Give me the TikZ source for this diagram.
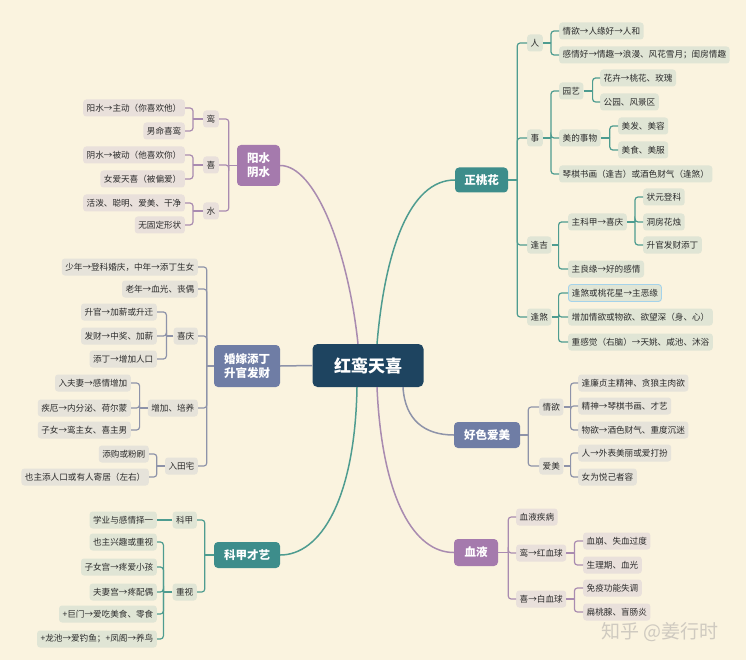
\documentclass[tikz,border=0pt]{standalone}
\usepackage{fontspec}
\setmainfont{Noto Sans CJK SC}
\usetikzlibrary{calc}
\definecolor{bgc}{HTML}{FAF3DF}
\definecolor{navy}{HTML}{1E4460}
\definecolor{tcol}{HTML}{3D8D8B}
\definecolor{pcol}{HTML}{A57AAD}
\definecolor{scol}{HTML}{6F7DA5}
\definecolor{tlc}{HTML}{4E9C90}
\definecolor{plc}{HTML}{A98BB0}
\definecolor{slc}{HTML}{8E93A9}
\definecolor{tlf}{HTML}{E0E5D5}
\definecolor{plf}{HTML}{E9E0DB}
\definecolor{slf}{HTML}{E6E3DA}
\definecolor{txt}{HTML}{2B2B2B}
\definecolor{hl}{HTML}{A5D3EA}
\definecolor{wmc}{HTML}{CFCAC0}
\newcommand{\brL}[4]{%
  \draw[#4] (#1.west) -- ++(-#2,0) coordinate (#1j);
  \foreach \cc in {#3} {\draw[#4,rounded corners=3pt] (#1j) |- (\cc.east);}
}
\newcommand{\brR}[4]{%
  \draw[#4] (#1.east) -- ++(#2,0) coordinate (#1j);
  \foreach \cc in {#3} {\draw[#4,rounded corners=3pt] (#1j) |- (\cc.west);}
}
\tikzset{
  leafbox/.style={rounded corners=3pt, inner xsep=3.5pt, inner ysep=0pt, minimum height=17pt, font=\fontsize{8.6}{10}\selectfont, text=txt},
  tleaf/.style={leafbox, fill=tlf},
  pleaf/.style={leafbox, fill=plf},
  sleaf/.style={leafbox, fill=slf},
  mainbox/.style={rounded corners=4pt, text=white, font=\fontsize{11.5}{14}\selectfont\bfseries, align=center, inner sep=0pt},
  tline/.style={draw=tlc, line width=1.2pt},
  pline/.style={draw=plc, line width=1.2pt},
  sline/.style={draw=slc, line width=1.2pt},
  mline/.style={line width=1.5pt},
}
\begin{document}
\begin{tikzpicture}[x=1pt,y=-1pt]
\fill[bgc] (0,0) rectangle (746,660);
\useasboundingbox (0,0) rectangle (746,660);

% centre
\node[fill=navy, rounded corners=5pt, minimum width=111pt, minimum height=43pt, text=white, font=\fontsize{17}{20}\selectfont\bfseries, inner sep=0pt] (c) at (368,365.5) {红鸾天喜};

% main nodes
\node[mainbox, fill=pcol, minimum width=43pt, minimum height=41pt] (yy) at (258.5,165.5) {阳水\\阴水};
\node[mainbox, fill=scol, minimum width=66pt, minimum height=42pt] (hj) at (247,366) {婚嫁添丁\\升官发财};
\node[mainbox, fill=tcol, minimum width=66pt, minimum height=26pt] (kj) at (247,555) {科甲才艺};
\node[mainbox, fill=tcol, minimum width=53pt, minimum height=25pt] (zt) at (481.5,180) {正桃花};
\node[mainbox, fill=scol, minimum width=66pt, minimum height=26pt] (hs) at (487,435) {好色爱美};
\node[mainbox, fill=pcol, minimum width=44pt, minimum height=27pt] (xy) at (476,552.5) {血液};

% main connectors
\draw[pline, mline] ($(c.north)+(-10,0)$) .. controls +(-10,-94) and +(35,0) .. (yy.east);
\draw[tline, mline] ($(c.north)+(9,0)$) .. controls +(8,-94) and +(-45,0) .. (zt.west);
\draw[tline, mline] ($(c.south)+(-11,0)$) .. controls +(-2,113) and +(40,0) .. (kj.east);
\draw[pline, mline] ($(c.south)+(9,0)$) .. controls +(5,113) and +(-39,0) .. (xy.west);
\draw[sline, mline] ($(c.south)+(35,0)$) .. controls +(2,33) and +(-29,0) .. (hs.west);
\draw[sline, mline] (c.west) -- (hj.east);

% ---- 阳水阴水
\node[pleaf, anchor=east] (yy1) at (219,119) {鸾};
\node[pleaf, anchor=east] (yy2) at (219,165) {喜};
\node[pleaf, anchor=east] (yy3) at (219,211) {水};
\node[pleaf, anchor=east] (yy11) at (185,108) {阳水→主动（你喜欢他）};
\node[pleaf, anchor=east] (yy12) at (185,131) {男命喜鸾};
\node[pleaf, anchor=east] (yy21) at (185,155) {阴水→被动（他喜欢你）};
\node[pleaf, anchor=east] (yy22) at (185,179) {女爱天喜（被偏爱）};
\node[pleaf, anchor=east] (yy31) at (185,203) {活泼、聪明、爱美、干净};
\node[pleaf, anchor=east] (yy32) at (185,225) {无固定形状};
\brL{yy}{8}{yy1,yy2,yy3}{pline}
\brL{yy1}{10}{yy11,yy12}{pline}
\brL{yy2}{10}{yy21,yy22}{pline}
\brL{yy3}{10}{yy31,yy32}{pline}

% ---- 婚嫁添丁
\node[sleaf, anchor=east] (hj1) at (198,267) {少年→登科婚庆，中年→添丁生女};
\node[sleaf, anchor=east] (hj2) at (198,289) {老年→血光、丧偶};
\node[sleaf, anchor=east] (hj3) at (198,336) {喜庆};
\node[sleaf, anchor=east] (hj4) at (198,408) {增加、培养};
\node[sleaf, anchor=east] (hj5) at (198,466) {入田宅};
\node[sleaf, anchor=east] (hj31) at (157,312) {升官→加薪或升迁};
\node[sleaf, anchor=east] (hj32) at (157,336) {发财→中奖、加薪};
\node[sleaf, anchor=east] (hj33) at (157,359) {添丁→增加人口};
\node[sleaf, anchor=east] (hj41) at (131,383) {入夫妻→感情增加};
\node[sleaf, anchor=east] (hj42) at (131,408) {疾厄→内分泌、荷尔蒙};
\node[sleaf, anchor=east] (hj43) at (131,430) {子女→鸾主女、喜主男};
\node[sleaf, anchor=east] (hj51) at (149,454) {添购或粉刷};
\node[sleaf, anchor=east] (hj52) at (149,477) {也主添人口或有人寄居（左右）};
\brL{hj}{7}{hj1,hj2,hj3,hj4,hj5}{sline}
\brL{hj3}{7}{hj31,hj32,hj33}{sline}
\brL{hj4}{8}{hj41,hj42,hj43}{sline}
\brL{hj5}{8}{hj51,hj52}{sline}

% ---- 科甲才艺
\node[tleaf, anchor=east] (kj1) at (197,520) {科甲};
\node[tleaf, anchor=east] (kj2) at (197,592) {重视};
\node[tleaf, anchor=east] (kj11) at (157,520) {学业与感情择一};
\node[tleaf, anchor=east] (kj21) at (157,542) {也主兴趣或重视};
\node[tleaf, anchor=east] (kj22) at (157,567) {子女宫→疼爱小孩};
\node[tleaf, anchor=east] (kj23) at (157,592) {夫妻宫→疼配偶};
\node[tleaf, anchor=east] (kj24) at (157,614) {+巨门→爱吃美食、零食};
\node[tleaf, anchor=east] (kj25) at (157,639) {+龙池→爱钓鱼；+凤阁→养鸟};
\brL{kj}{9}{kj1,kj2}{tline}
\draw[tline] (kj1.west) -- (kj11.east);
\brL{kj2}{9}{kj21,kj22,kj23,kj24,kj25}{tline}

% ---- 正桃花
\node[tleaf, anchor=west] (zt1) at (527,43) {人};
\node[tleaf, anchor=west] (zt2) at (527,138) {事};
\node[tleaf, anchor=west] (zt3) at (527,245) {逢吉};
\node[tleaf, anchor=west] (zt4) at (527,317) {逢煞};
\node[tleaf, anchor=west] (zt11) at (559,31) {情欲→人缘好→人和};
\node[tleaf, anchor=west] (zt12) at (559,55) {感情好→情趣→浪漫、风花雪月；闺房情趣};
\node[tleaf, anchor=west] (zt21) at (559,91) {园艺};
\node[tleaf, anchor=west] (zt22) at (559,138) {美的事物};
\node[tleaf, anchor=west] (zt23) at (559,174) {琴棋书画（逢吉）或酒色财气（逢煞）};
\node[tleaf, anchor=west] (zt211) at (600,78) {花卉→桃花、玫瑰};
\node[tleaf, anchor=west] (zt212) at (600,102) {公园、风景区};
\node[tleaf, anchor=west] (zt221) at (618,126) {美发、美容};
\node[tleaf, anchor=west] (zt222) at (618,150) {美食、美服};
\node[tleaf, anchor=west] (zt31) at (568,222) {主科甲→喜庆};
\node[tleaf, anchor=west] (zt32) at (568,269) {主良缘→好的感情};
\node[tleaf, anchor=west] (zt311) at (643,197) {状元登科};
\node[tleaf, anchor=west] (zt312) at (643,222) {洞房花烛};
\node[tleaf, anchor=west] (zt313) at (643,245) {升官发财添丁};
\node[tleaf, anchor=west, draw=hl, line width=0.9pt] (zt41) at (568,293) {逢煞或桃花星→主恶缘};
\node[tleaf, anchor=west] (zt42) at (568,317) {增加情欲或物欲、欲望深（身、心）};
\node[tleaf, anchor=west] (zt43) at (568,342) {重感觉（右脑）→天姚、咸池、沐浴};
\brR{zt}{9}{zt1,zt2,zt3,zt4}{tline}
\brR{zt1}{8}{zt11,zt12}{tline}
\brR{zt2}{8}{zt21,zt22,zt23}{tline}
\brR{zt21}{9}{zt211,zt212}{tline}
\brR{zt22}{9}{zt221,zt222}{tline}
\brR{zt3}{7}{zt31,zt32}{tline}
\brR{zt31}{8}{zt311,zt312,zt313}{tline}
\brR{zt4}{7}{zt41,zt42,zt43}{tline}

% ---- 好色爱美
\node[sleaf, anchor=west] (hs1) at (539,407) {情欲};
\node[sleaf, anchor=west] (hs2) at (539,466) {爱美};
\node[sleaf, anchor=west] (hs11) at (578,383) {逢廉贞主精神、贪狼主肉欲};
\node[sleaf, anchor=west] (hs12) at (578,406) {精神→琴棋书画、才艺};
\node[sleaf, anchor=west] (hs13) at (578,430) {物欲→酒色财气、重度沉迷};
\node[sleaf, anchor=west] (hs21) at (578,453) {人→外表美丽或爱打扮};
\node[sleaf, anchor=west] (hs22) at (578,477) {女为悦己者容};
\brR{hs}{8}{hs1,hs2}{sline}
\brR{hs1}{7}{hs11,hs12,hs13}{sline}
\brR{hs2}{7}{hs21,hs22}{sline}

% ---- 血液
\node[pleaf, anchor=west] (xy1) at (516,517) {血液疾病};
\node[pleaf, anchor=west] (xy2) at (516,553) {鸾→红血球};
\node[pleaf, anchor=west] (xy3) at (516,599) {喜→白血球};
\node[pleaf, anchor=west] (xy21) at (583,541) {血崩、失血过度};
\node[pleaf, anchor=west] (xy22) at (583,565) {生理期、血光};
\node[pleaf, anchor=west] (xy31) at (583,588) {免疫功能失调};
\node[pleaf, anchor=west] (xy32) at (583,612) {扁桃腺、盲肠炎};
\brR{xy}{10}{xy1,xy2,xy3}{pline}
\brR{xy2}{8}{xy21,xy22}{pline}
\brR{xy3}{8}{xy31,xy32}{pline}

% watermark
\node[text=wmc, font=\fontsize{19}{22}\selectfont] (wm) at (660,632) {知乎 @姜行时};
\end{tikzpicture}
\end{document}
